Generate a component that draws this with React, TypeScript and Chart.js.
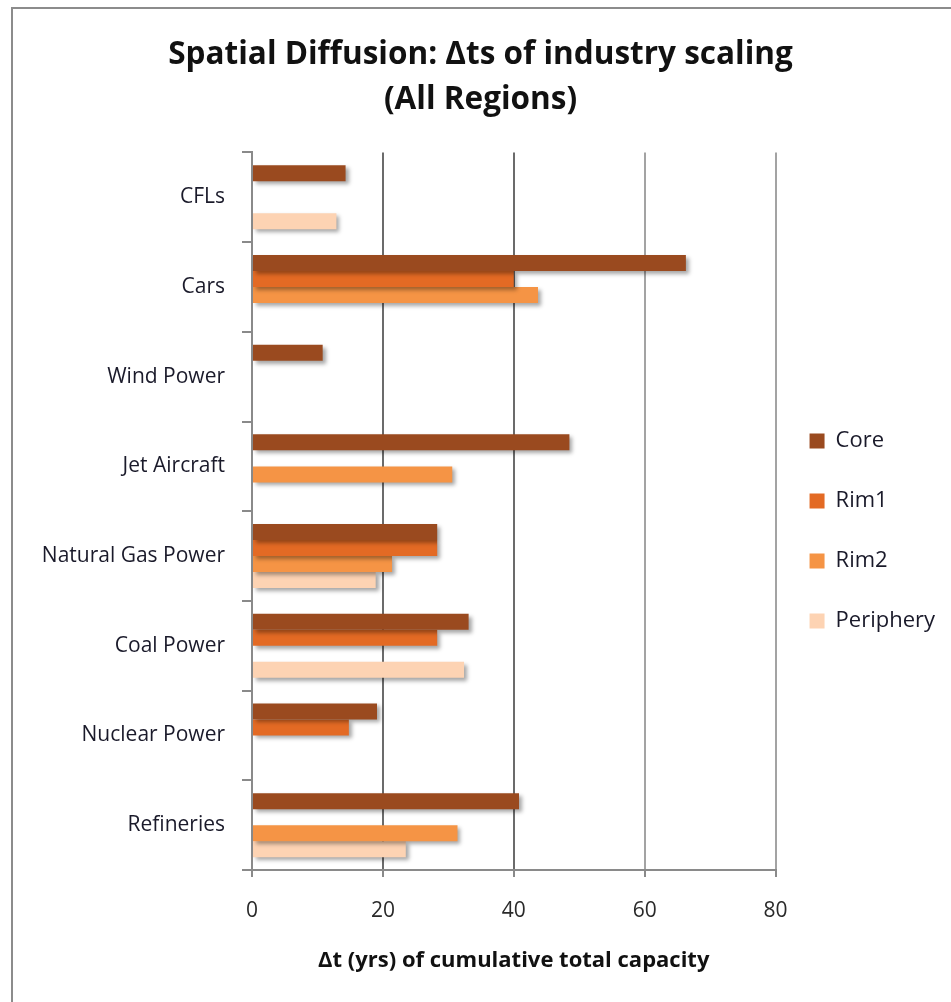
import React, { useEffect, useRef } from "react";
import { Chart, registerables } from "chart.js";

Chart.register(...registerables);

const categories = [
  "CFLs",
  "Cars",
  "Wind Power",
  "Jet Aircraft",
  "Natural Gas Power",
  "Coal Power",
  "Nuclear Power",
  "Refineries",
];

const coreValues = [14.3, 66.3, 10.8, 48.5, 28.3, 33.1, 19.1, 40.8];
const rim1Values = [null, 40.0, null, null, 28.3, 28.3, 14.8, null];
const rim2Values = [null, 43.7, null, 30.6, 21.4, null, null, 31.4];
const peripheryValues = [12.9, null, null, null, 18.9, 32.4, null, 23.5];

const seriesNames = ["Core", "Rim1", "Rim2", "Periphery"];
const seriesColors = ["#9a4a1f", "#e36a24", "#f59445", "#fdd3b3"];

const titleLines = ["Spatial Diffusion: \u0394ts of industry scaling", "(All Regions)"];
const xAxisTitle = "\u0394t (yrs) of cumulative total capacity";

const FONT = "'Open Sans', Lato, sans-serif";
const W = 951;
const H = 1002;

// grey frame around the whole chart
const framePlugin = {
  id: "frame",
  beforeDraw(chart: any) {
    const c = chart.ctx;
    c.save();
    c.fillStyle = "#ffffff";
    c.fillRect(0, 0, chart.width, chart.height);
    c.strokeStyle = "#8c8c8c";
    c.lineWidth = 2;
    c.strokeRect(12, 8, chart.width + 20, chart.height + 20);
    c.restore();
  },
};

// soft drop shadow under the bars
const barShadowPlugin = {
  id: "barShadow",
  beforeDatasetsDraw(chart: any) {
    const c = chart.ctx;
    c.save();
    c.shadowColor = "rgba(0,0,0,0.35)";
    c.shadowBlur = 4;
    c.shadowOffsetX = 3;
    c.shadowOffsetY = 3;
  },
  afterDatasetsDraw(chart: any) {
    chart.ctx.restore();
  },
};

// pull the legend column slightly towards the plot
const legendNudgePlugin = {
  id: "legendNudge",
  afterLayout(chart: any) {
    const lg = chart.legend;
    if (!lg) return;
    lg.left -= 4;
    lg.right -= 4;
  },
};

export default function App() {
  const canvasRef = useRef<HTMLCanvasElement | null>(null);

  useEffect(() => {
    if (!canvasRef.current) return;
    const values = [coreValues, rim1Values, rim2Values, peripheryValues];
    const chart = new Chart(canvasRef.current, {
      type: "bar",
      data: {
        labels: categories,
        datasets: seriesNames.map((name, i) => ({
          label: name,
          data: values[i],
          backgroundColor: seriesColors[i],
          borderWidth: 0,
          categoryPercentage: 0.714,
          barPercentage: 1,
        })),
      },
      plugins: [framePlugin, barShadowPlugin, legendNudgePlugin],
      options: {
        indexAxis: "y",
        responsive: false,
        animation: false,
        layout: { padding: { left: 12, top: 8, right: 2, bottom: 0 } },
        plugins: {
          title: {
            display: true,
            text: titleLines,
            color: "#111111",
            font: { family: FONT, size: 31.5, weight: "bold", lineHeight: 1.42 },
            padding: { top: 24.5, bottom: 30.5 },
          },
          legend: {
            display: true,
            position: "right",
            title: {
              display: true,
              text: "",
              font: { family: FONT, size: 12, lineHeight: 1.2 },
              padding: { top: 0, bottom: 37.6 },
            },
            labels: {
              color: "#1a1a2a",
              font: { family: FONT, size: 22 },
              boxWidth: 15,
              boxHeight: 15,
              padding: 38,
            },
          },
          tooltip: { enabled: false },
        },
        scales: {
          x: {
            min: 0,
            max: 80,
            ticks: {
              stepSize: 20,
              color: "#2a2a2a",
              font: { family: FONT, size: 21 },
              padding: 21,
            },
            grid: {
              color: (ctx: any) =>
                ctx.tick && (ctx.tick.value === 20 || ctx.tick.value === 40) ? "#6b6b6b" : "#a3a3a3",
              lineWidth: 2,
              drawTicks: true,
              tickLength: 7,
              tickColor: "#8a8a8a",
            },
            border: { display: true, color: "#8a8a8a", width: 2 },
            title: {
              display: true,
              text: xAxisTitle,
              color: "#111111",
              font: { family: FONT, size: 22, weight: "bold" },
              padding: { top: 0, bottom: 28 },
            },
            afterFit(scale: any) {
              scale.height = H - 870;
            },
          },
          y: {
            ticks: {
              color: "#1a1a2a",
              font: { family: FONT, size: 21 },
              padding: 17,
            },
            grid: {
              offset: true,
              drawOnChartArea: false,
              drawTicks: true,
              tickLength: 10,
              tickColor: "#8a8a8a",
              lineWidth: 2,
            },
            border: { display: true, color: "#8a8a8a", width: 2 },
            afterFit(scale: any) {
              scale.width = 252 - 12;
            },
          },
        },
      },
    } as any);
    return () => chart.destroy();
  }, []);

  return (
    <div style={{ position: "fixed", left: 0, top: 0, width: W, height: H, background: "#fff" }}>
      <canvas ref={canvasRef} width={W} height={H} style={{ display: "block" }} />
    </div>
  );
}
